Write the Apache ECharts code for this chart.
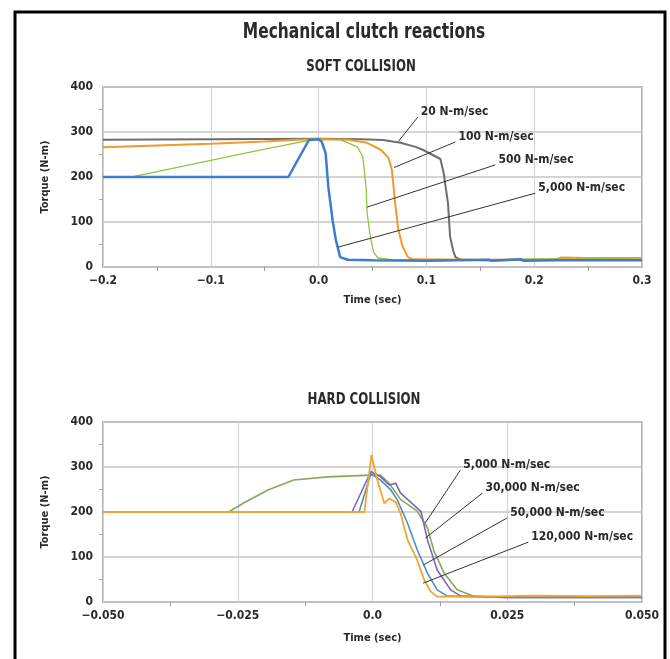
<!DOCTYPE html>
<html>
<head>
<meta charset="utf-8">
<script src="https://cdn.jsdelivr.net/npm/echarts@6/dist/echarts.min.js"></script>
<style>
  html, body { margin: 0; padding: 0; background: #fff; }
  #chart { width: 670px; height: 659px; }
</style>
</head>
<body>
<div id="chart"></div>
<script>
// soft collision, [time (sec), torque (N-m)]
const soft20 = [[-0.2,283],[-0.1,284],[0,285],[0.04,284],[0.06,282],[0.076,276],[0.09,267],[0.097,260],[0.105,250],[0.113,240],[0.116,209],[0.12,142],[0.122,67],[0.125,35],[0.127,22],[0.132,16],[0.16,15],[0.2,16],[0.25,17],[0.3,18]];
const soft100 = [[-0.2,266],[-0.15,270],[-0.1,274],[-0.05,279],[-0.02,283],[0,284],[0.027,283],[0.045,276],[0.058,260],[0.065,242],[0.068,215],[0.071,142],[0.074,82],[0.078,45],[0.083,22],[0.087,17],[0.15,16],[0.22,17],[0.23,20],[0.3,20]];
const soft500 = [[-0.2,200],[-0.172,201],[-0.1,237],[-0.05,262],[-0.01,281],[0,284],[0.02,283],[0.036,267],[0.041,245],[0.044,178],[0.045,120],[0.048,67],[0.051,33],[0.055,20],[0.07,16],[0.15,16],[0.22,18],[0.225,22],[0.26,20],[0.3,21]];
const soft5000 = [[-0.2,200],[-0.028,200],[-0.02,235],[-0.013,265],[-0.009,282],[0,284],[0.003,278],[0.0065,253],[0.009,178],[0.013,104],[0.016,60],[0.02,22],[0.027,16],[0.05,15],[0.1,14],[0.158,16],[0.16,14],[0.188,17],[0.19,14],[0.22,15],[0.3,15]];

// hard collision
const hard5000 = [[-0.05,200],[-0.0267,200],[-0.0239,220],[-0.0194,249],[-0.0146,271],[-0.0083,278],[-0.0004,282],[0.0015,282],[0.003,265],[0.0052,228],[0.0083,202],[0.0102,165],[0.0114,113],[0.0133,64],[0.0157,27],[0.0188,13],[0.025,11],[0.05,11]];
const hard30000 = [[-0.05,200],[-0.0038,200],[-0.0003,290],[0.0015,278],[0.0031,260],[0.0043,264],[0.0052,242],[0.008,212],[0.009,201],[0.0102,138],[0.012,71],[0.0145,27],[0.0164,13],[0.025,10],[0.05,10]];
const hard50000 = [[-0.05,200],[-0.0025,200],[-0.0003,285],[0.0015,271],[0.0034,249],[0.0046,227],[0.0065,175],[0.0083,116],[0.0102,64],[0.012,27],[0.0139,13],[0.025,10],[0.05,10]];
const hard120000 = [[-0.05,200],[-0.0015,200],[-0.0002,327],[0.0009,271],[0.0022,219],[0.0031,230],[0.0043,222],[0.0052,197],[0.0065,138],[0.0083,93],[0.0096,49],[0.0108,23],[0.012,12],[0.02,12],[0.03,14],[0.04,13],[0.05,14]];

const softTicks = ['\u22120.2', '\u22120.1', '0.0', '0.1', '0.2', '0.3'];
const hardTicks = ['\u22120.050', '\u22120.025', '0.0', '0.025', '0.050'];

// callouts: label, [text end x, y], [line end x, y]
const softNotes = [
    ['20 N-m/sec', [0.092, 333], [0.074, 279]],
    ['100 N-m/sec', [0.127, 278], [0.070, 221]],
    ['500 N-m/sec', [0.164, 227], [0.045, 133]],
    ['5,000 N-m/sec', [0.201, 164], [0.018, 44]]
];
const hardNotes = [
    ['5,000 N-m/sec', [0.0163, 293], [0.0098, 176]],
    ['30,000 N-m/sec', [0.0204, 242], [0.0098, 142]],
    ['50,000 N-m/sec', [0.025, 187], [0.0094, 82]],
    ['120,000 N-m/sec', [0.0289, 133], [0.0094, 42]]
];

const cond = '"DejaVu Sans Condensed", "Liberation Sans Narrow", sans-serif';

function xAxis(gridIndex, min, max, interval, ticks, gap) {
    return {
        type: 'value', gridIndex: gridIndex, min: min, max: max, interval: interval,
        name: 'Time (sec)', nameLocation: 'middle', nameGap: gap,
        nameTextStyle: { fontFamily: cond, fontWeight: 'bold', fontSize: 11, color: '#2a2a2a' },
        axisLine: { show: false, onZero: false },
        axisTick: { show: false },
        minorTick: { show: true, splitNumber: 2, length: 4, lineStyle: { color: '#999' } },
        axisLabel: {
            fontFamily: cond, fontWeight: 'bold', fontSize: 12, color: '#2a2a2a', margin: 8,
            formatter: v => ticks[Math.round((v - min) / interval)]
        },
        splitLine: { show: true, lineStyle: { color: '#cfd2d8', width: 1 } }
    };
}

function yAxis(gridIndex) {
    return {
        type: 'value', gridIndex: gridIndex, min: 0, max: 400, interval: 100,
        name: 'Torque (N-m)', nameLocation: 'middle', nameGap: 52,
        nameTextStyle: { fontFamily: cond, fontWeight: 'bold', fontSize: 11, color: '#2a2a2a' },
        axisLine: { show: false, onZero: false },
        axisTick: { show: false },
        minorTick: { show: true, splitNumber: 2, length: 4, lineStyle: { color: '#aaa' } },
        axisLabel: { fontFamily: cond, fontWeight: 'bold', fontSize: 12, color: '#2a2a2a', margin: 10 },
        splitLine: { show: true, lineStyle: { color: '#c6c6c6', width: 1.5 } }
    };
}

function line(name, data, color, width, xi) {
    return {
        name: name, type: 'line', data: data, xAxisIndex: xi, yAxisIndex: xi,
        showSymbol: false, symbol: 'none', animation: false,
        lineStyle: { color: color, width: width }
    };
}

function heading(text, x, y, size, squeeze) {
    return {
        type: 'text', x: x, y: y, scaleX: squeeze, z: 10,
        style: { text: text, fontFamily: cond, fontWeight: 'bold', fontSize: size,
                 fill: '#2a2a2a', textAlign: 'center', textVerticalAlign: 'middle' }
    };
}

let chart = echarts.init(document.getElementById('chart'));
let fixed = [
    { type: 'rect', shape: { x: 15, y: 12, width: 650, height: 660 },
      style: { fill: null, stroke: '#000', lineWidth: 3 }, z: 0 },
    heading('Mechanical clutch reactions', 364, 32, 22, 0.78),
    heading('SOFT COLLISION', 361, 67, 16, 0.82),
    heading('HARD COLLISION', 364, 400, 16, 0.82)
];

chart.setOption({
    animation: false,
    backgroundColor: '#fff',
    grid: [
        { left: 103, right: 28, top: 87, height: 180, show: true, borderColor: '#b4b4b4', borderWidth: 2 },
        { left: 103, right: 28, top: 422, height: 180, show: true, borderColor: '#b4b4b4', borderWidth: 2 }
    ],
    xAxis: [xAxis(0, -0.2, 0.3, 0.1, softTicks, 28), xAxis(1, -0.05, 0.05, 0.025, hardTicks, 31)],
    yAxis: [yAxis(0), yAxis(1)],
    series: [
        line('20 N-m/sec', soft20, '#6e6e6e', 2, 0),
        line('100 N-m/sec', soft100, '#f29a2e', 2, 0),
        line('500 N-m/sec', soft500, '#8cc63f', 1.3, 0),
        line('5,000 N-m/sec', soft5000, '#3c7dd0', 2.5, 0),
        line('5,000 N-m/sec', hard5000, '#86a95a', 1.6, 1),
        line('30,000 N-m/sec', hard30000, '#7b68b5', 1.6, 1),
        line('50,000 N-m/sec', hard50000, '#4a8fc8', 1.6, 1),
        line('120,000 N-m/sec', hard120000, '#f3a531', 1.8, 1)
    ],
    graphic: fixed
});

function callouts(notes, gridIndex) {
    let out = [];
    notes.forEach(n => {
        let a = chart.convertToPixel({ gridIndex: gridIndex }, n[1]);
        let b = chart.convertToPixel({ gridIndex: gridIndex }, n[2]);
        out.push({
            type: 'line', shape: { x1: a[0], y1: a[1], x2: b[0], y2: b[1] },
            style: { stroke: '#333', lineWidth: 1 }, z: 10
        });
        out.push({
            type: 'text', x: a[0] + 3, y: a[1] - 5, z: 10,
            style: { text: n[0], fontFamily: cond, fontWeight: 'bold', fontSize: 12,
                     fill: '#2a2a2a', textAlign: 'left', textVerticalAlign: 'middle' }
        });
    });
    return out;
}

chart.setOption({
    graphic: fixed.concat(callouts(softNotes, 0), callouts(hardNotes, 1))
});
</script>
</body>
</html>
